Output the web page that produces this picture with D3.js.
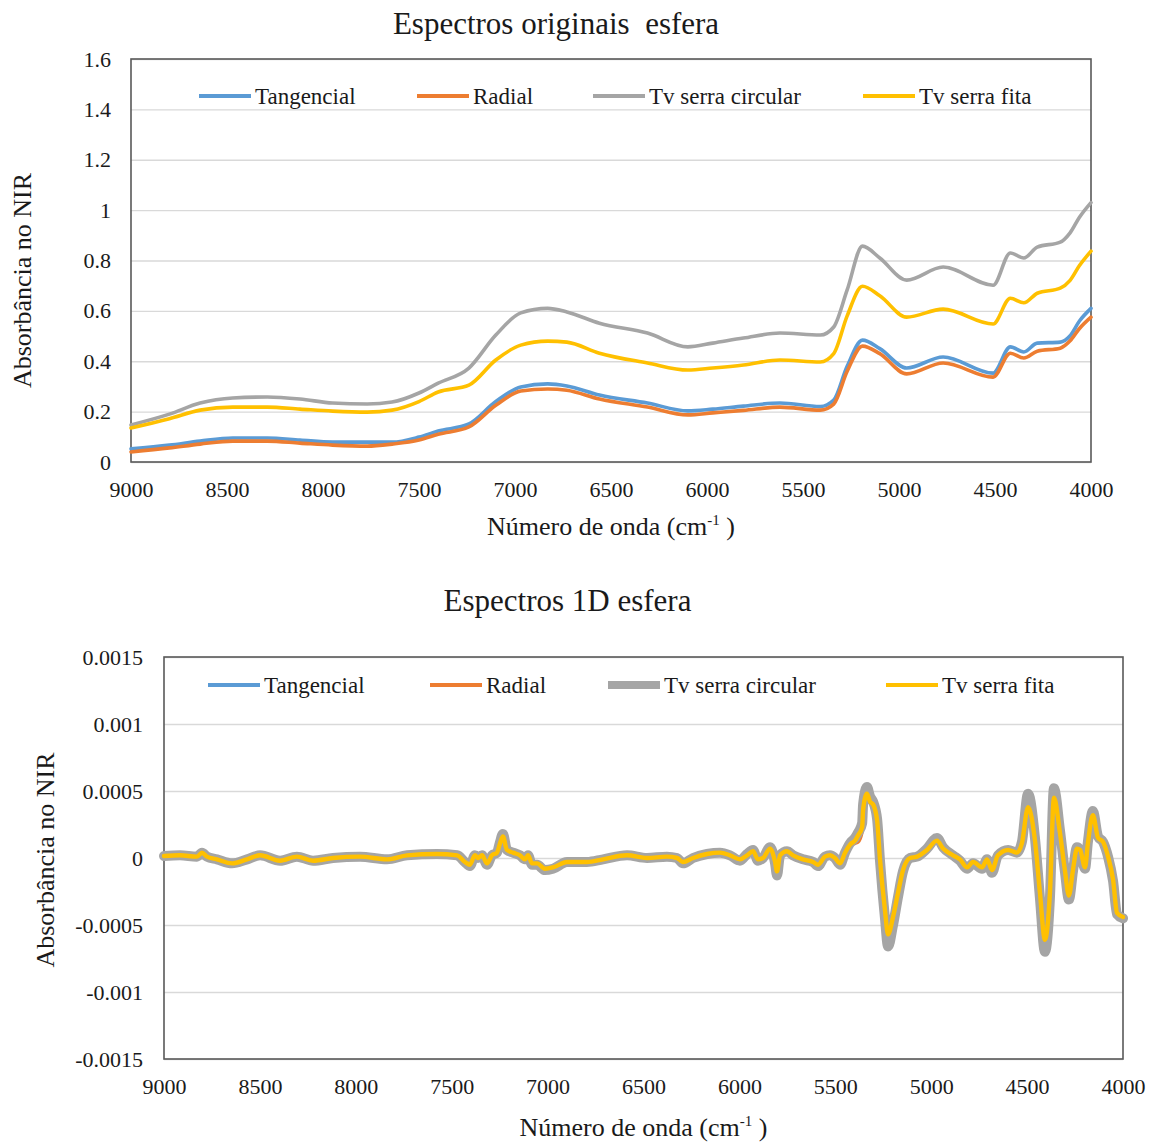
<!DOCTYPE html>
<html>
<head>
<meta charset="utf-8">
<script src="https://cdn.jsdelivr.net/npm/d3@7"></script>
<style>
  html, body { margin: 0; padding: 0; background: #fff; }
  svg { display: block; overflow: hidden; }
  text { font-family: "Liberation Serif", "Times New Roman", serif; fill: #1a1a1a; }
</style>
</head>
<body>
<svg id="chart" width="1150" height="1142"></svg>
<script>
// ---- Series names and colours ----
const seriesNames = ["Tangencial", "Radial", "Tv serra circular", "Tv serra fita"];
const seriesColors = ["#5B9BD5", "#ED7D31", "#A5A5A5", "#FFC000"];

// ---- Original spectra (absorbance) ----
const wavenumbersRaw = [9000, 8800, 8640, 8470, 8290, 8120, 7950, 7770, 7640, 7500, 7400, 7240, 7100, 6970, 6830, 6730, 6560, 6310, 6100, 5970, 5810, 5620, 5410, 5340, 5270, 5190, 5100, 4960, 4770, 4510, 4420, 4350, 4280, 4160, 4110, 4060, 4000];
const rawTangencial = [0.052, 0.067, 0.083, 0.095, 0.095, 0.087, 0.079, 0.079, 0.079, 0.099, 0.123, 0.151, 0.24, 0.298, 0.31, 0.302, 0.266, 0.234, 0.203, 0.21, 0.222, 0.234, 0.22, 0.246, 0.38, 0.484, 0.45, 0.373, 0.417, 0.353, 0.457, 0.437, 0.472, 0.476, 0.5, 0.56, 0.61];
const rawRadial = [0.04, 0.056, 0.071, 0.083, 0.083, 0.075, 0.067, 0.063, 0.071, 0.087, 0.11, 0.139, 0.225, 0.282, 0.29, 0.285, 0.25, 0.218, 0.187, 0.195, 0.205, 0.218, 0.206, 0.23, 0.36, 0.46, 0.43, 0.35, 0.393, 0.337, 0.432, 0.413, 0.44, 0.452, 0.48, 0.53, 0.575];
const rawCircular = [0.147, 0.19, 0.234, 0.254, 0.258, 0.25, 0.234, 0.23, 0.238, 0.274, 0.313, 0.373, 0.504, 0.592, 0.61, 0.596, 0.551, 0.512, 0.457, 0.472, 0.492, 0.512, 0.504, 0.536, 0.683, 0.857, 0.81, 0.722, 0.774, 0.702, 0.83, 0.81, 0.853, 0.873, 0.909, 0.972, 1.03];
const rawFita = [0.135, 0.172, 0.206, 0.218, 0.218, 0.21, 0.202, 0.198, 0.206, 0.24, 0.278, 0.305, 0.405, 0.464, 0.48, 0.476, 0.432, 0.393, 0.365, 0.373, 0.385, 0.405, 0.397, 0.43, 0.58, 0.698, 0.66, 0.575, 0.607, 0.548, 0.65, 0.632, 0.67, 0.69, 0.72, 0.78, 0.837];
const rawYTicks = [0, 0.2, 0.4, 0.6, 0.8, 1, 1.2, 1.4, 1.6];
const rawYLabels = ["0", "0.2", "0.4", "0.6", "0.8", "1", "1.2", "1.4", "1.6"];

// ---- First-derivative spectra ----
const wavenumbersD1 = [9000, 8917, 8828, 8802, 8776, 8724, 8645, 8567, 8499, 8395, 8307, 8223, 8119, 7978, 7837, 7733, 7577, 7472, 7431, 7405, 7379, 7363, 7342, 7316, 7290, 7264, 7248, 7233, 7212, 7180, 7144, 7118, 7102, 7081, 7055, 7014, 6972, 6899, 6795, 6711, 6586, 6482, 6378, 6325, 6294, 6242, 6169, 6101, 6049, 5997, 5960, 5929, 5903, 5877, 5840, 5814, 5804, 5788, 5752, 5720, 5668, 5616, 5590, 5554, 5528, 5502, 5475, 5449, 5423, 5397, 5381, 5360, 5355, 5335, 5319, 5303, 5282, 5267, 5241, 5225, 5199, 5173, 5147, 5110, 5074, 5022, 4970, 4938, 4886, 4850, 4813, 4782, 4735, 4709, 4683, 4652, 4599, 4553, 4527, 4495, 4459, 4433, 4407, 4381, 4360, 4329, 4303, 4282, 4261, 4240, 4224, 4198, 4183, 4157, 4130, 4104, 4078, 4052, 4031, 4000];
const d1Tangencial = [1.5e-5, 2e-5, 1e-5, 4e-5, 1e-5, -1e-5, -4e-5, -1e-5, 2e-5, -2e-5, 1e-5, -2e-5, 0, 1e-5, -1e-5, 2e-5, 3e-5, 2e-5, -3e-5, -5e-5, 2e-5, 0, 2e-5, -4e-5, 2e-5, 4e-5, 1.1e-4, 1.6e-4, 6e-5, 4e-5, 2e-5, -1e-5, 2e-5, -4e-5, -4e-5, -8e-5, -7e-5, -3e-5, -3e-5, -1e-5, 2e-5, 0, 1e-5, 0, -3e-5, 0, 3e-5, 4e-5, 2e-5, -1e-5, 2e-5, 5e-5, -1e-5, 0, 7e-5, -3e-5, -1e-4, 2e-5, 5e-5, 2e-5, -1e-5, -3e-5, -5e-5, 1e-5, 2e-5, 0, -4e-5, 4e-5, 1e-4, 1.3e-4, 1.6e-4, 2.3e-4, 3.5e-4, 4.7e-4, 4.2e-4, 4e-4, 2.8e-4, -1e-5, -3.9e-4, -5.6e-4, -4.4e-4, -2.6e-4, -9e-5, 0, 1e-5, 6e-5, 1.3e-4, 7e-5, 2e-5, -1e-5, -7e-5, -3e-5, -7e-5, -1e-5, -9e-5, 2e-5, 6e-5, 4e-5, 1.1e-4, 3.8e-4, 1.3e-4, -2.6e-4, -6e-4, -2.6e-4, 4.5e-4, 1.9e-4, -9e-5, -2.8e-4, -9e-5, 7e-5, 6e-5, -7e-5, 1.1e-4, 3.2e-4, 1.5e-4, 1.2e-4, 1e-5, -1.6e-4, -4.1e-4, -4.4e-4];
const d1Radial = [1.5e-5, 2e-5, 1e-5, 4e-5, 1e-5, -1e-5, -4e-5, -1e-5, 2e-5, -2e-5, 1e-5, -2e-5, 0, 1e-5, -1e-5, 2e-5, 3e-5, 2e-5, -3e-5, -5e-5, 2e-5, 0, 2e-5, -4e-5, 0, 3e-5, 1e-4, 1.5e-4, 6e-5, 4e-5, 2e-5, -1e-5, 3e-5, -4e-5, -4e-5, -8e-5, -7e-5, -3e-5, -3e-5, -1e-5, 2e-5, 0, 1e-5, 0, -3e-5, 0, 3e-5, 4e-5, 2e-5, -1e-5, 2e-5, 5e-5, -1e-5, 0, 7e-5, -3e-5, -1e-4, 2e-5, 5e-5, 2e-5, -1e-5, -3e-5, -5e-5, 1e-5, 2e-5, 0, -4e-5, 4e-5, 9e-5, 1.1e-4, 1.2e-4, 2e-4, 3.4e-4, 4.6e-4, 4.1e-4, 3.9e-4, 2.8e-4, -1e-5, -3.9e-4, -5.6e-4, -4.4e-4, -2.6e-4, -9e-5, 0, 1e-5, 6e-5, 1.3e-4, 7e-5, 2e-5, -1e-5, -7e-5, -3e-5, -7e-5, -1e-5, -9e-5, 2e-5, 6e-5, 4e-5, 1.1e-4, 3.7e-4, 1.3e-4, -2.6e-4, -6e-4, -2.6e-4, 4.4e-4, 1.9e-4, -9e-5, -2.8e-4, -9e-5, 7e-5, 6e-5, -7e-5, 1.1e-4, 3.2e-4, 1.5e-4, 1.2e-4, 1e-5, -1.6e-4, -4.1e-4, -4.4e-4];
const d1Circular = [1.5e-5, 2e-5, 1e-5, 4e-5, 1e-5, -1e-5, -4e-5, -1e-5, 2e-5, -2e-5, 1e-5, -2e-5, 0, 1e-5, -1e-5, 2e-5, 3e-5, 2e-5, -3e-5, -6e-5, 2e-5, 0, 2e-5, -5e-5, 2e-5, 4e-5, 1.2e-4, 1.8e-4, 6e-5, 4e-5, 2e-5, -1e-5, 2e-5, -5e-5, -5e-5, -9e-5, -8e-5, -3e-5, -3e-5, -1e-5, 2e-5, 0, 1e-5, 0, -4e-5, 0, 3e-5, 4e-5, 2e-5, -2e-5, 3e-5, 6e-5, -2e-5, 0, 8e-5, -4e-5, -1.3e-4, 2e-5, 5e-5, 2e-5, -1e-5, -3e-5, -6e-5, 1e-5, 2e-5, 0, -5e-5, 4e-5, 1.1e-4, 1.5e-4, 1.9e-4, 2.6e-4, 4e-4, 5.3e-4, 4.6e-4, 4.2e-4, 2.9e-4, -2e-5, -4.5e-4, -6.6e-4, -5e-4, -2.9e-4, -1e-4, 0, 1e-5, 7e-5, 1.5e-4, 8e-5, 2e-5, -2e-5, -8e-5, -4e-5, -8e-5, -1e-5, -1.1e-4, 2e-5, 6e-5, 4e-5, 1.2e-4, 4.8e-4, 1.5e-4, -3e-4, -7e-4, -3e-4, 5.2e-4, 2.1e-4, -1e-4, -3.1e-4, -1e-4, 8e-5, 6e-5, -8e-5, 1.2e-4, 3.5e-4, 1.6e-4, 1.2e-4, 1e-5, -1.7e-4, -4.2e-4, -4.5e-4];
const d1Fita = [1.5e-5, 2e-5, 1e-5, 4e-5, 1e-5, -1e-5, -4e-5, -1e-5, 2e-5, -2e-5, 1e-5, -2e-5, 0, 1e-5, -1e-5, 2e-5, 3e-5, 2e-5, -3e-5, -5e-5, 2e-5, 0, 2e-5, -4e-5, 2e-5, 4e-5, 1.1e-4, 1.6e-4, 6e-5, 4e-5, 2e-5, -1e-5, 2e-5, -4e-5, -4e-5, -8e-5, -7e-5, -3e-5, -3e-5, -1e-5, 2e-5, 0, 1e-5, 0, -3e-5, 0, 3e-5, 4e-5, 2e-5, -1e-5, 2e-5, 5e-5, -1e-5, 0, 7e-5, -3e-5, -1e-4, 2e-5, 5e-5, 2e-5, -1e-5, -3e-5, -5e-5, 1e-5, 2e-5, 0, -4e-5, 4e-5, 1e-4, 1.3e-4, 1.7e-4, 2.3e-4, 3.6e-4, 4.8e-4, 4.2e-4, 4e-4, 2.8e-4, -1e-5, -3.9e-4, -5.7e-4, -4.4e-4, -2.6e-4, -9e-5, 0, 1e-5, 6e-5, 1.3e-4, 7e-5, 2e-5, -1e-5, -7e-5, -3e-5, -7e-5, -1e-5, -9e-5, 2e-5, 6e-5, 4e-5, 1.1e-4, 3.8e-4, 1.3e-4, -2.6e-4, -6.1e-4, -2.6e-4, 4.5e-4, 1.9e-4, -9e-5, -2.8e-4, -9e-5, 7e-5, 6e-5, -7e-5, 1.1e-4, 3.2e-4, 1.5e-4, 1.2e-4, 1e-5, -1.6e-4, -4.1e-4, -4.4e-4];
const d1YTicks = [-0.0015, -0.001, -0.0005, 0, 0.0005, 0.001, 0.0015];
const d1YLabels = ["-0.0015", "-0.001", "-0.0005", "0", "0.0005", "0.001", "0.0015"];

// ---- Shared x axis ticks ----
const xTicks = [9000, 8500, 8000, 7500, 7000, 6500, 6000, 5500, 5000, 4500, 4000];

const svg = d3.select("#chart");

function drawPanel(cfg) {
  const { left, right, top, bottom, yDomain, yTicks, yLabels, wavenumbers, series, widths, title, titleY, yTitleX, yTitleShift, xTitleY, legendY, legendX, legendWidths, xLabelGap, yLabelGap } = cfg;
  const x = d3.scaleLinear().domain([9000, 4000]).range([left, right]);
  const y = d3.scaleLinear().domain(yDomain).range([bottom, top]);
  const g = svg.append("g");

  // horizontal gridlines
  g.append("g")
    .attr("transform", `translate(${left},0)`)
    .call(d3.axisLeft(y).tickValues(yTicks).tickSize(-(right - left)).tickFormat(""))
    .call(a => a.select(".domain").remove())
    .call(a => a.selectAll("line").attr("stroke", "#d9d9d9").attr("stroke-width", 1.3));

  // y tick labels
  const labelByTick = new Map(yTicks.map((t, i) => [t, yLabels[i]]));
  g.append("g")
    .attr("transform", `translate(${left - yLabelGap},0)`)
    .call(d3.axisLeft(y).tickValues(yTicks).tickSize(0).tickPadding(0).tickFormat(d => labelByTick.get(d)))
    .call(a => a.select(".domain").remove())
    .call(a => a.selectAll("text").attr("font-size", 22).attr("font-family", "Liberation Serif").attr("fill", "#1a1a1a"));

  // x tick labels
  g.append("g")
    .attr("transform", `translate(0,${bottom + xLabelGap})`)
    .call(d3.axisBottom(x).tickValues(xTicks).tickSize(0).tickPadding(0).tickFormat(d3.format("d")))
    .call(a => a.select(".domain").remove())
    .call(a => a.selectAll("text").attr("font-size", 22).attr("font-family", "Liberation Serif").attr("fill", "#1a1a1a"));

  // plot frame
  g.append("rect")
    .attr("x", left).attr("y", top)
    .attr("width", right - left).attr("height", bottom - top)
    .attr("fill", "none").attr("stroke", "#595959").attr("stroke-width", 1.6);

  // series lines
  const line = d3.line()
    .x(d => x(d[0]))
    .y(d => y(d[1]))
    .curve(d3.curveMonotoneX);
  series.forEach((vals, i) => {
    g.append("path")
      .datum(wavenumbers.map((w, k) => [w, vals[k]]))
      .attr("d", line)
      .attr("fill", "none")
      .attr("stroke", seriesColors[i])
      .attr("stroke-width", widths[i])
      .attr("stroke-linejoin", "round")
      .attr("stroke-linecap", "round");
  });

  // legend
  seriesNames.forEach((name, i) => {
    const lx = legendX[i];
    g.append("line")
      .attr("x1", lx).attr("x2", lx + 52)
      .attr("y1", legendY).attr("y2", legendY)
      .attr("stroke", seriesColors[i])
      .attr("stroke-width", legendWidths[i]);
    g.append("text")
      .attr("x", lx + 56).attr("y", legendY)
      .attr("dy", "0.34em")
      .attr("font-size", 23)
      .text(name);
  });

  // title
  g.append("text")
    .attr("x", (left + right) / 2 + (cfg.titleShift || 0)).attr("y", titleY)
    .attr("text-anchor", "middle")
    .attr("font-size", 31)
    .style("white-space", "pre")
    .text(title);

  // x axis title with superscript
  const xt = g.append("text")
    .attr("x", (left + right) / 2).attr("y", xTitleY)
    .attr("text-anchor", "middle")
    .attr("font-size", 26)
    .style("white-space", "pre");
  xt.append("tspan").text("Número de onda (cm");
  xt.append("tspan").attr("font-size", 15).attr("dy", -10).text("-1");
  xt.append("tspan").attr("dy", 10).text(" )");

  // y axis title
  g.append("text")
    .attr("transform", `translate(${yTitleX},${(top + bottom) / 2 + yTitleShift}) rotate(-90)`)
    .attr("text-anchor", "middle")
    .attr("font-size", 26)
    .text("Absorbância no NIR");
}

drawPanel({
  left: 131, right: 1091, top: 59, bottom: 462,
  yDomain: [0, 1.6], yTicks: rawYTicks, yLabels: rawYLabels,
  wavenumbers: wavenumbersRaw,
  series: [rawTangencial, rawRadial, rawCircular, rawFita],
  widths: [3.6, 3.6, 3.6, 3.6],
  title: "Espectros originais  esfera", titleY: 34, titleShift: -55,
  yTitleX: 31, yTitleShift: 20, xTitleY: 535,
  legendY: 96, legendX: [199, 417, 593, 863], legendWidths: [4, 4, 4, 4],
  xLabelGap: 19, yLabelGap: 20
});

drawPanel({
  left: 164, right: 1123, top: 657, bottom: 1059,
  yDomain: [-0.0015, 0.0015], yTicks: d1YTicks, yLabels: d1YLabels,
  wavenumbers: wavenumbersD1,
  series: [d1Tangencial, d1Radial, d1Circular, d1Fita],
  widths: [3.6, 3.6, 10, 4.4],
  title: "Espectros 1D esfera", titleY: 611, titleShift: -76,
  yTitleX: 54, yTitleShift: 2, xTitleY: 1136,
  legendY: 685, legendX: [208, 430, 608, 886], legendWidths: [4, 4, 8, 4],
  xLabelGap: 19, yLabelGap: 21
});
</script>
</body>
</html>
